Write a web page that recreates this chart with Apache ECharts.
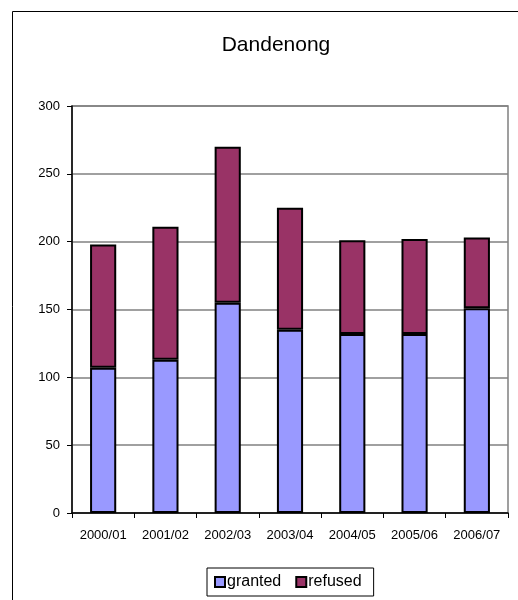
<!DOCTYPE html>
<html>
<head>
<meta charset="utf-8">
<script src="https://cdn.jsdelivr.net/npm/echarts@6/dist/echarts.min.js"></script>
<style>
  html, body { margin: 0; padding: 0; background: #fff; }
  #chart { width: 518px; height: 600px; }
</style>
</head>
<body>
<div id="chart"></div>
<script>
// Planning permits per financial year, Dandenong
var categories = ['2000/01', '2001/02', '2002/03', '2003/04', '2004/05', '2005/06', '2006/07'];
var granted = [107, 113, 155, 135, 132, 132, 151];
var refused = [91, 98, 115, 90, 69, 70, 52];
var yTicks = { min: 0, max: 300, interval: 50 };

var FONT = 'Liberation Sans, Arial, sans-serif';
var chart = echarts.init(document.getElementById('chart'), null, { renderer: 'canvas' });

function barSeries(name, data, color) {
  return {
    name: name,
    type: 'bar',
    stack: 'total',
    data: data,
    barWidth: '42%',
    itemStyle: { color: color, borderColor: '#000', borderWidth: 2 },
    emphasis: { disabled: true }
  };
}

chart.setOption({
  animation: false,
  textStyle: { fontFamily: FONT },
  title: {
    text: 'Dandenong',
    left: 271,
    textAlign: 'center',
    top: 30,
    textStyle: { fontFamily: FONT, fontSize: 21, fontWeight: 'normal', color: '#000' }
  },
  graphic: [{
    type: 'rect',
    shape: { x: 12.5, y: 11.5, width: 530, height: 620 },
    style: { fill: 'none', stroke: '#000', lineWidth: 1 },
    silent: true
  }],
  legend: {
    data: [
      { name: 'granted', itemStyle: { color: '#9999FF', borderColor: '#000', borderWidth: 2 } },
      { name: 'refused', itemStyle: { color: '#993366', borderColor: '#000', borderWidth: 2 } }
    ],
    left: 207,
    top: 568,
    orient: 'horizontal',
    padding: [6, 12, 6, 7],
    itemGap: 14,
    itemWidth: 10,
    itemHeight: 10,
    icon: 'rect',
    borderColor: '#000',
    borderWidth: 1,
    textStyle: { fontFamily: FONT, fontSize: 16, color: '#000', padding: [0, 0, 0, -3] }
  },
  grid: {
    left: 72,
    right: 10,
    top: 106,
    bottom: 87,
    show: true,
    borderColor: '#808080',
    borderWidth: 1.5,
    backgroundColor: '#fff'
  },
  xAxis: {
    type: 'category',
    data: categories,
    axisLine: { lineStyle: { color: '#000', width: 1.5 } },
    axisTick: { show: true, length: 5, lineStyle: { color: '#000' } },
    axisLabel: { color: '#000', fontSize: 13, fontFamily: FONT, margin: 16 }
  },
  yAxis: {
    type: 'value',
    min: yTicks.min,
    max: yTicks.max,
    interval: yTicks.interval,
    axisLine: { show: true, lineStyle: { color: '#000', width: 1.5 } },
    axisTick: { show: true, length: 5, lineStyle: { color: '#000' } },
    axisLabel: { color: '#000', fontSize: 13, fontFamily: FONT, margin: 12 },
    splitLine: { show: true, lineStyle: { color: '#808080', width: 1.5 } }
  },
  series: [
    barSeries('granted', granted, '#9999FF'),
    barSeries('refused', refused, '#993366')
  ]
});
</script>
</body>
</html>
